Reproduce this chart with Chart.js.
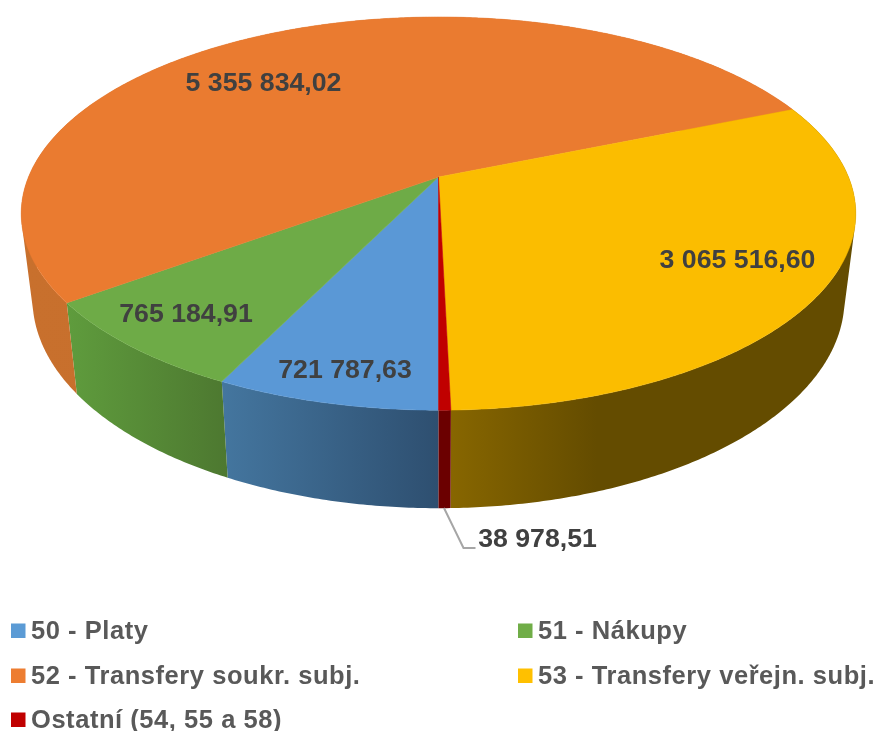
<!DOCTYPE html>
<html lang="cs">
<head>
<meta charset="utf-8">
<title>Výdaje</title>
<script src="https://cdn.jsdelivr.net/npm/chart.js@4/dist/chart.umd.js"></script>
<style>html,body{margin:0;padding:0;background:#fff}canvas{display:block}</style>
</head>
<body>
<canvas id="c" width="877" height="731"></canvas>
<script>
const categories = ['50 - Platy', '51 - Nákupy', '52 - Transfery soukr. subj.', '53 - Transfery veřejn. subj.', 'Ostatní (54, 55 a 58)'];
const values = [721787.63, 765184.91, 5355834.02, 3065516.60, 38978.51];
const valueLabels = ['721 787,63', '765 184,91', '5 355 834,02', '3 065 516,60', '38 978,51'];
const topColors = ['#5A98D6', '#6EAB47', '#EA7B30', '#FBBD00', '#C00000'];
const swatchColors = ['#5B9BD5', '#70AD47', '#ED7D31', '#FFC000', '#C00000'];
const sideStops = [
  [[0, '#44769f'], [1, '#2e4f70']],
  [[0, '#5f9c3d'], [1, '#4d7830']],
  [[0, '#c8702d'], [1, '#c56b29']],
  [[0, '#876600'], [0.36, '#644c00'], [1, '#644c00']],
  [[0, '#6b0000'], [1, '#6b0000']]
];

/* Projection of the pie's unit circle */
const view = { cx: 438.5, cy: 177, a: 410, b: 189.8, k: 0.186, shrink: 0.973, yScale: 1.065, yShift: 71.35 };
function rim(angle, r, lower) {
  const u = Math.cos(angle) * r, v = -Math.sin(angle) * r, w = 1 + view.k * v;
  let x = view.cx + view.a * u / w, y = view.cy - view.b * v / w;
  if (lower) { x = view.cx + view.shrink * (x - view.cx); y = view.yScale * y + view.yShift; }
  return [x, y];
}
function arcPoints(start, end, lower) {
  const n = Math.max(2, Math.ceil((end - start) / (Math.PI / 360)));
  const pts = [];
  for (let i = 0; i <= n; i++) pts.push(rim(start + (end - start) * i / n, 1, lower));
  return pts;
}
function polygon(ctx, pts) {
  ctx.beginPath();
  pts.forEach((p, i) => i ? ctx.lineTo(p[0], p[1]) : ctx.moveTo(p[0], p[1]));
  ctx.closePath();
}
function wallPath(ctx, top, low) {
  ctx.beginPath();
  for (let i = 0; i + 1 < top.length; i++) {
    let quad = [top[i], top[i + 1], low[i + 1], low[i]];
    let area = 0;
    quad.forEach((p, j) => { const q = quad[(j + 1) % 4]; area += p[0] * q[1] - q[0] * p[1]; });
    if (area < 0) quad = quad.reverse();
    quad.forEach((p, j) => j ? ctx.lineTo(p[0], p[1]) : ctx.moveTo(p[0], p[1]));
    ctx.closePath();
  }
}

const labelStyle = { font: 'bold 26.7px "Liberation Sans", Arial, sans-serif', color: '#404040' };
const labelCenters = [[345, 371], [186, 315], [263.5, 84], [737.5, 261], [537.5, 540]];
const leader = { index: 4, path: [[444, 508], [463.5, 548], [475.5, 548]], color: '#a6a6a6', width: 2 };
const legendStyle = {
  font: 'bold 25.5px "Liberation Sans", Arial, sans-serif', color: '#595959', spacing: '0.55px',
  cols: [11, 518], rows: [623.5, 668.5, 712.5], box: 14.5, gap: 5.5
};

const pie3d = {
  id: 'pie3d',
  beforeDatasetsDraw(chart) {
    const ctx = chart.ctx, arcs = chart.getDatasetMeta(0).data;
    ctx.save();
    arcs.forEach((arc, i) => {
      const top = arcPoints(arc.startAngle, arc.endAngle, false);
      const low = arcPoints(arc.startAngle, arc.endAngle, true);
      const all = top.concat(low);
      const x0 = Math.min(...all.map(p => p[0])), x1 = Math.max(...all.map(p => p[0]));
      const g = ctx.createLinearGradient(x0, 0, x1, 0);
      sideStops[i].forEach(s => g.addColorStop(s[0], s[1]));
      wallPath(ctx, top, low);
      ctx.fillStyle = g;
      ctx.fill();
    });
    arcs.forEach((arc, i) => {
      polygon(ctx, [rim(0, 0, false)].concat(arcPoints(arc.startAngle, arc.endAngle, false)));
      ctx.fillStyle = arc.options.backgroundColor;
      ctx.strokeStyle = arc.options.backgroundColor; ctx.lineWidth = 0.5;
      ctx.fill(); ctx.stroke();
    });
    ctx.restore();
    return false;
  },
  afterDraw(chart) {
    const ctx = chart.ctx;
    ctx.save();
    ctx.strokeStyle = leader.color; ctx.lineWidth = leader.width;
    ctx.beginPath();
    leader.path.forEach((p, i) => i ? ctx.lineTo(p[0], p[1]) : ctx.moveTo(p[0], p[1]));
    ctx.stroke();
    ctx.font = labelStyle.font; ctx.fillStyle = labelStyle.color;
    ctx.textAlign = 'center'; ctx.textBaseline = 'middle';
    valueLabels.forEach((t, i) => ctx.fillText(t, labelCenters[i][0], labelCenters[i][1]));
    ctx.restore();
    ctx.save();
    ctx.font = legendStyle.font; ctx.letterSpacing = legendStyle.spacing;
    ctx.textAlign = 'left'; ctx.textBaseline = 'middle';
    chart.data.labels.forEach((t, i) => {
      const x = legendStyle.cols[i % 2], y = legendStyle.rows[Math.floor(i / 2)];
      ctx.fillStyle = swatchColors[i];
      ctx.fillRect(x, y, legendStyle.box, legendStyle.box);
      ctx.fillStyle = legendStyle.color;
      ctx.fillText(t, x + legendStyle.box + legendStyle.gap, y + legendStyle.box / 2 + 1);
    });
    ctx.restore();
  }
};

new Chart(document.getElementById('c'), {
  type: 'pie',
  data: { labels: categories, datasets: [{ data: values, backgroundColor: topColors, borderWidth: 0 }] },
  options: {
    responsive: false, animation: false, devicePixelRatio: 1, rotation: 180,
    plugins: { legend: { display: false }, tooltip: { enabled: false } }
  },
  plugins: [pie3d]
});
</script>
</body>
</html>
